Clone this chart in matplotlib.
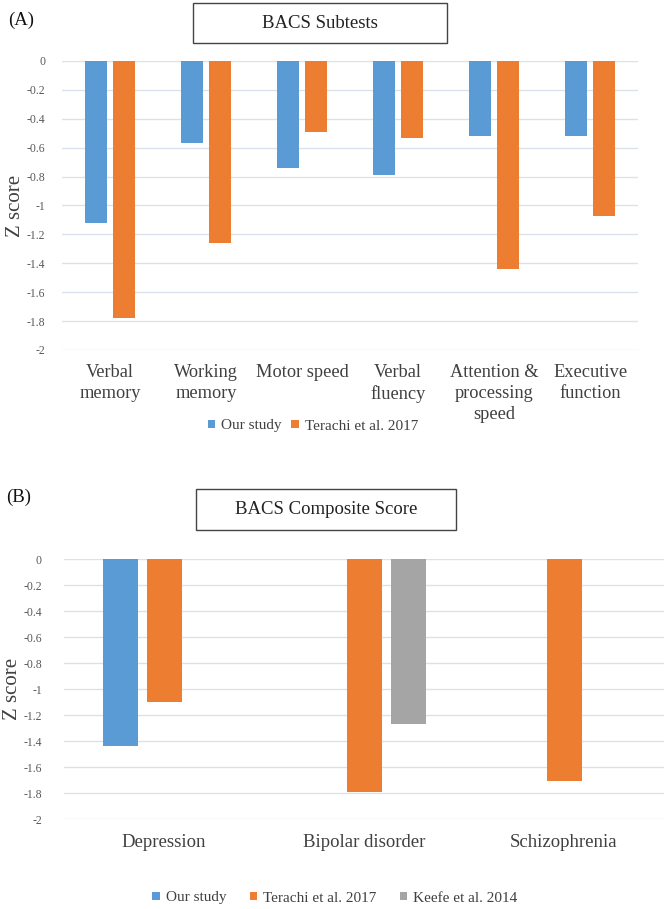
import matplotlib
matplotlib.use("Agg")
import matplotlib.pyplot as plt
from matplotlib.patches import Rectangle
import numpy as np

# ---- data ----
subtests = ["Verbal\nmemory", "Working\nmemory", "Motor speed", "Verbal\nfluency",
            "Attention &\nprocessing\nspeed", "Executive\nfunction"]
our_study_a = [-1.12, -0.57, -0.74, -0.79, -0.52, -0.52]
terachi_a = [-1.78, -1.26, -0.49, -0.53, -1.44, -1.07]

disorders = ["Depression", "Bipolar disorder", "Schizophrenia"]
our_study_b = [-1.44, np.nan, np.nan]
terachi_b = [-1.10, -1.79, -1.71]
keefe_b = [np.nan, -1.27, np.nan]

yticks = [0, -0.2, -0.4, -0.6, -0.8, -1, -1.2, -1.4, -1.6, -1.8, -2]
ytick_labels = ["0", "-0.2", "-0.4", "-0.6", "-0.8", "-1", "-1.2", "-1.4", "-1.6", "-1.8", "-2"]

BLUE = "#5B9BD5"
ORANGE = "#ED7D31"
GRAY = "#A5A5A5"
GRID = "#D9E1EA"
TICKC = "#595959"
TEXTC = "#404040"

plt.rcParams["font.family"] = ["Liberation Serif", "DejaVu Serif"]

W, H = 664, 909
fig = plt.figure(figsize=(W / 100, H / 100), dpi=100)
fig.patch.set_facecolor("white")


def fx(px):
    return px / W


def fy(py):
    return 1 - py / H


def style_axis(ax, pad_px):
    for s in ax.spines.values():
        s.set_visible(False)
    ax.set_ylim(-2, 0)
    ax.set_yticks(yticks)
    ax.set_yticklabels(ytick_labels, fontsize=8.5, color=TICKC)
    ax.tick_params(axis="y", length=0, pad=pad_px * 0.72)
    ax.tick_params(axis="x", length=0)
    ax.grid(axis="y", color=GRID, linewidth=1.0)
    ax.set_axisbelow(True)


# ---- Panel A ----
axA = fig.add_axes([fx(62), fy(350), fx(638) - fx(62), (350 - 61) / H])
xa = np.arange(len(subtests))
axA.bar(xa - 0.15, our_study_a, width=0.23, color=BLUE, label="Our study")
axA.bar(xa + 0.15, terachi_a, width=0.23, color=ORANGE, label="Terachi et al. 2017")
axA.set_xlim(-0.5, len(subtests) - 0.5)
style_axis(axA, 17)
axA.set_xticks(xa)
axA.set_xticklabels(subtests, fontsize=13.2, color=TEXTC, va="top", linespacing=1.3)
axA.tick_params(axis="x", pad=10)
axA.set_ylabel("Z score", fontsize=15, color=TEXTC, labelpad=1)
axA.legend(loc="center", bbox_to_anchor=(fx(313), fy(426)), bbox_transform=fig.transFigure,
           ncol=2, frameon=False, fontsize=11, handlelength=0.5, handleheight=0.5,
           handletextpad=0.4, columnspacing=0.6, labelcolor=TEXTC)

# ---- Panel B ----
axB = fig.add_axes([fx(64), fy(819), 1 - fx(64), (819 - 559) / H])
xb = np.arange(len(disorders))
axB.bar(xb - 0.22, our_study_b, width=0.175, color=BLUE, label="Our study")
axB.bar(xb, terachi_b, width=0.175, color=ORANGE, label="Terachi et al. 2017")
axB.bar(xb + 0.22, keefe_b, width=0.175, color=GRAY, label="Keefe et al. 2014")
axB.set_xlim(-0.5, len(disorders) - 0.5)
style_axis(axB, 22)
axB.set_xticks(xb)
axB.set_xticklabels(disorders, fontsize=13.5, color=TEXTC)
axB.tick_params(axis="x", pad=11)
axB.set_ylabel("Z score", fontsize=15, color=TEXTC, labelpad=1)
axB.legend(loc="center", bbox_to_anchor=(fx(335), fy(898)), bbox_transform=fig.transFigure,
           ncol=3, frameon=False, fontsize=11, handlelength=0.5, handleheight=0.5,
           handletextpad=0.4, columnspacing=1.5, labelcolor=TEXTC)

# ---- Title boxes and panel labels ----
def title_box(x0, y0, x1, y1, text):
    fig.add_artist(Rectangle((fx(x0), fy(y1)), fx(x1) - fx(x0), (y1 - y0) / H,
                             transform=fig.transFigure, fill=False,
                             edgecolor="#444444", linewidth=1.0))
    fig.text(fx((x0 + x1) / 2), fy((y0 + y1) / 2), text, ha="center", va="center",
             fontsize=13.5, color="#222222")


title_box(193, 3, 447, 43, "BACS Subtests")
title_box(196, 489, 456, 530, "BACS Composite Score")

fig.text(fx(8), fy(20), "(A)", ha="left", va="center", fontsize=13.5, color="#111111")
fig.text(fx(6), fy(497), "(B)", ha="left", va="center", fontsize=13.5, color="#111111")

fig.savefig("out.png", dpi=100, facecolor="white")
